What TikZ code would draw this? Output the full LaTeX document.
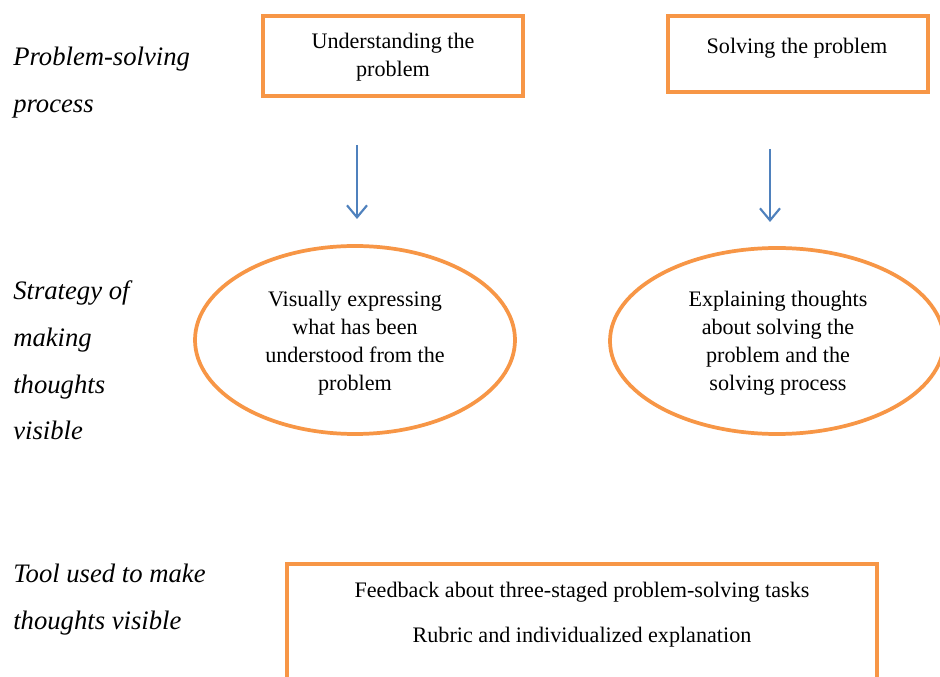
\documentclass[tikz,border=0pt]{standalone}
\usepackage{fontspec}
\setmainfont{Liberation Serif}
\usetikzlibrary{shapes.geometric,arrows.meta}
\definecolor{orng}{HTML}{F79646}
\definecolor{arrblue}{HTML}{4F81BD}
\begin{document}
\begin{tikzpicture}[x=0.75pt,y=-0.75pt,
  obox/.style={draw=orng,line width=2.8pt,rectangle,inner sep=0pt},
  oell/.style={draw=orng,line width=2.8pt,ellipse,inner sep=0pt},
  txt/.style={font=\fontsize{16.6}{21}\selectfont,align=center,inner sep=0pt},
  lbl/.style={font=\fontsize{20}{35}\selectfont\itshape,anchor=base west,inner sep=0pt},
  flow/.style={draw=arrblue,line width=1.6pt,-{Straight Barb[length=9pt,width=15pt]}}]
\clip (0,0) rectangle (940,677);
\fill[white] (0,0) rectangle (940,677);
% left labels
\node[lbl] (l1a) at (13,66) {Problem-solving};
\node[lbl] (l1b) at (13,113) {process};
\node[lbl] (l2a) at (13,300) {Strategy of};
\node[lbl] (l2b) at (13,347) {making};
\node[lbl] (l2c) at (13,394) {thoughts};
\node[lbl] (l2d) at (13,440) {visible};
\node[lbl] (l3a) at (13,582) {Tool used to make};
\node[lbl] (l3b) at (13,629) {thoughts visible};
% top boxes
\node[obox,minimum width=195pt,minimum height=60pt] (box1) at (393,56) {};
\node[txt] (t1) at (393,57) {Understanding the\\problem};
\node[obox,minimum width=195pt,minimum height=57pt] (box2) at (798,54) {};
\node[txt] (t2) at (797,48) {Solving the problem};
% arrows
\coordinate (a1s) at (357,145);
\coordinate (a1e) at (357,219);
\coordinate (a2s) at (770,149);
\coordinate (a2e) at (770,222);
\draw[flow] (a1s) -- (a1e);
\draw[flow] (a2s) -- (a2e);
% ellipses
\node[oell,minimum width=240pt,minimum height=141pt] (e1) at (355,340) {};
\node[txt] (te1) at (355,343) {Visually expressing\\what has been\\understood from the\\problem};
\node[oell,minimum width=250.5pt,minimum height=139.5pt] (e2) at (777,341) {};
\node[txt] (te2) at (778,343) {Explaining thoughts\\about solving the\\problem and the\\solving process};
% bottom box
\node[obox,minimum width=442.5pt,minimum height=105pt,anchor=north] (box3) at (582,562) {};
\node[txt] (tb1) at (582,592) {Feedback about three-staged problem-solving tasks};
\node[txt] (tb2) at (582,637) {Rubric and individualized explanation};
\end{tikzpicture}
\end{document}
